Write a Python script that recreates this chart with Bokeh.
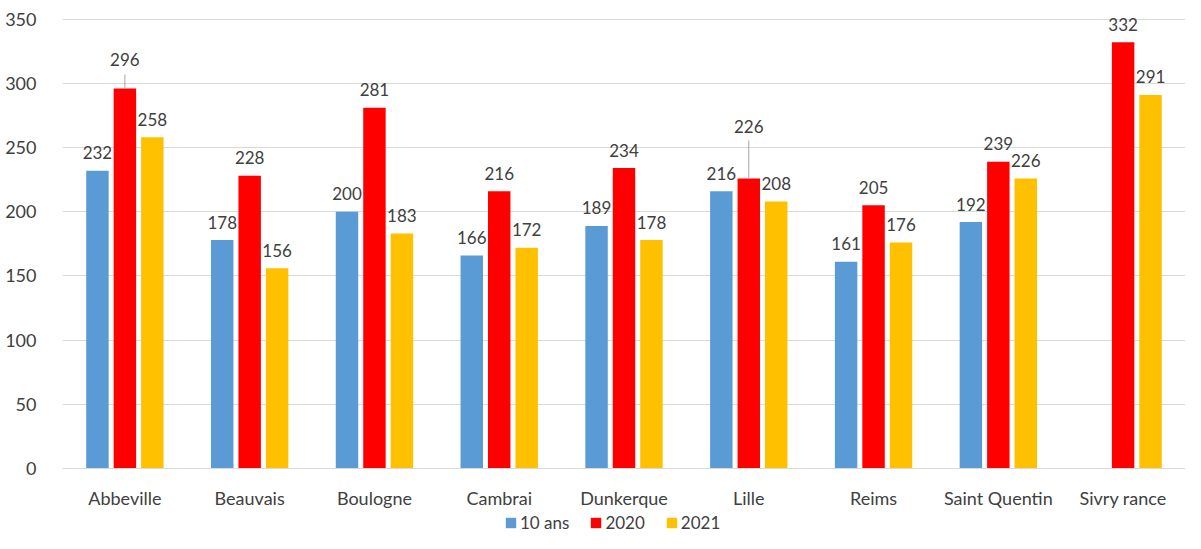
from bokeh.plotting import figure
from bokeh.models import ColumnDataSource, Range1d, FactorRange, Legend, LegendItem
from bokeh.layouts import column
from bokeh.transform import dodge
from bokeh.core.properties import value
from bokeh.embed import file_html
from bokeh.resources import INLINE
import math

cities = ["Abbeville", "Beauvais", "Boulogne", "Cambrai", "Dunkerque", "Lille",
          "Reims", "Saint Quentin", "Sivry rance"]
series_names = ["10 ans", "2020", "2021"]
v_10ans = [232, 178, 200, 166, 189, 216, 161, 192, float("nan")]
v_2020 = [296, 228, 281, 216, 234, 226, 205, 239, 332]
v_2021 = [258, 156, 183, 172, 178, 208, 176, 226, 291]
y_ticks = [0, 50, 100, 150, 200, 250, 300, 350]

colors = ["#5B9BD5", "#FF0000", "#FFC000"]
offsets = [-0.22, 0.0, 0.22]
FONT = "Lato"
TXT = "#404040"

W, H = 1185, 511
TOP, BOTTOM, LEFT = 11, 43, 62
YMAX = 356
p = figure(width=W, height=H, x_range=FactorRange(factors=cities, range_padding=0),
           y_range=Range1d(0, YMAX), output_backend="svg", toolbar_location=None,
           min_border_left=LEFT, min_border_right=0, min_border_top=TOP, min_border_bottom=BOTTOM)
p.outline_line_color = None

frame_h = H - TOP - BOTTOM
px = YMAX / frame_h  # data units per pixel

# special label offsets (in px above bar top) with leader lines
special = {("Abbeville", 1): 29, ("Lille", 1): 52}
leader = {("Abbeville", 1): (0, 14), ("Lille", 1): (0, 38)}

series_values = [v_10ans, v_2020, v_2021]
for si, (name, vals) in enumerate(zip(series_names, series_values)):
    src = ColumnDataSource(dict(city=cities, top=vals))
    p.vbar(x=dodge("city", offsets[si], range=p.x_range), top="top", width=0.18,
           source=src, fill_color=colors[si], line_color=None)
    lx, ly, lt = [], [], []
    sx0, sy0, sy1 = [], [], []
    for c, v in zip(cities, vals):
        if isinstance(v, float) and math.isnan(v):
            continue
        off = special.get((c, si), 18)
        lx.append(c); ly.append(v + off * px); lt.append(str(int(v)))
        if (c, si) in leader:
            a, b = leader[(c, si)]
            sx0.append(c); sy0.append(v + a * px); sy1.append(v + b * px)
    lsrc = ColumnDataSource(dict(x=lx, y=ly, t=lt))
    p.text(x=dodge("x", offsets[si], range=p.x_range), y="y", text="t", source=lsrc,
           text_align="center", text_baseline="middle", text_font=value(FONT),
           text_font_size="17px", text_color=TXT)
    if sx0:
        ssrc = ColumnDataSource(dict(x0=sx0, y0=sy0, y1=sy1))
        p.segment(x0=dodge("x0", offsets[si], range=p.x_range), y0="y0",
                  x1=dodge("x0", offsets[si], range=p.x_range), y1="y1",
                  source=ssrc, line_color="#A6A6A6", line_width=1)

p.yaxis.ticker = y_ticks
p.yaxis.axis_line_color = None
p.yaxis.major_tick_line_color = None
p.yaxis.minor_tick_line_color = None
p.yaxis.major_label_standoff = 20
p.yaxis.major_label_text_font = FONT
p.yaxis.major_label_text_font_size = "18px"
p.yaxis.major_label_text_color = TXT

p.xaxis.axis_line_color = "#D9D9D9"
p.xaxis.major_tick_line_color = None
p.xaxis.minor_tick_line_color = None
p.xaxis.major_label_standoff = 12
p.xaxis.major_label_text_font = FONT
p.xaxis.major_label_text_font_size = "18px"
p.xaxis.major_label_text_color = TXT

p.xgrid.grid_line_color = None
p.ygrid.grid_line_color = "#D9D9D9"
p.ygrid.grid_line_width = 1

# legend strip below the chart (series drawn out of view, only legend visible)
lg = figure(width=W, height=533 - H, x_range=FactorRange(factors=cities),
            y_range=Range1d(1000, 1001), output_backend="svg", toolbar_location=None,
            x_axis_type=None, y_axis_type=None, min_border=0)
lg.outline_line_color = None
lg.xgrid.grid_line_color = None
lg.ygrid.grid_line_color = None
items = []
for si, (name, vals) in enumerate(zip(series_names, series_values)):
    src = ColumnDataSource(dict(city=cities, top=vals))
    r = lg.vbar(x="city", top="top", width=0.18, source=src, fill_color=colors[si], line_color=None)
    items.append(LegendItem(label=name, renderers=[r]))
legend = Legend(items=items, orientation="horizontal", location=(442, 0), border_line_color=None,
                background_fill_alpha=0, glyph_width=13, glyph_height=13, label_standoff=3,
                spacing=20, padding=0, margin=0, label_text_font=FONT,
                label_text_font_size="17px", label_text_color=TXT, label_height=18)
lg.add_layout(legend, "center")

open("out.html", "w").write(file_html(column(p, lg), INLINE))
